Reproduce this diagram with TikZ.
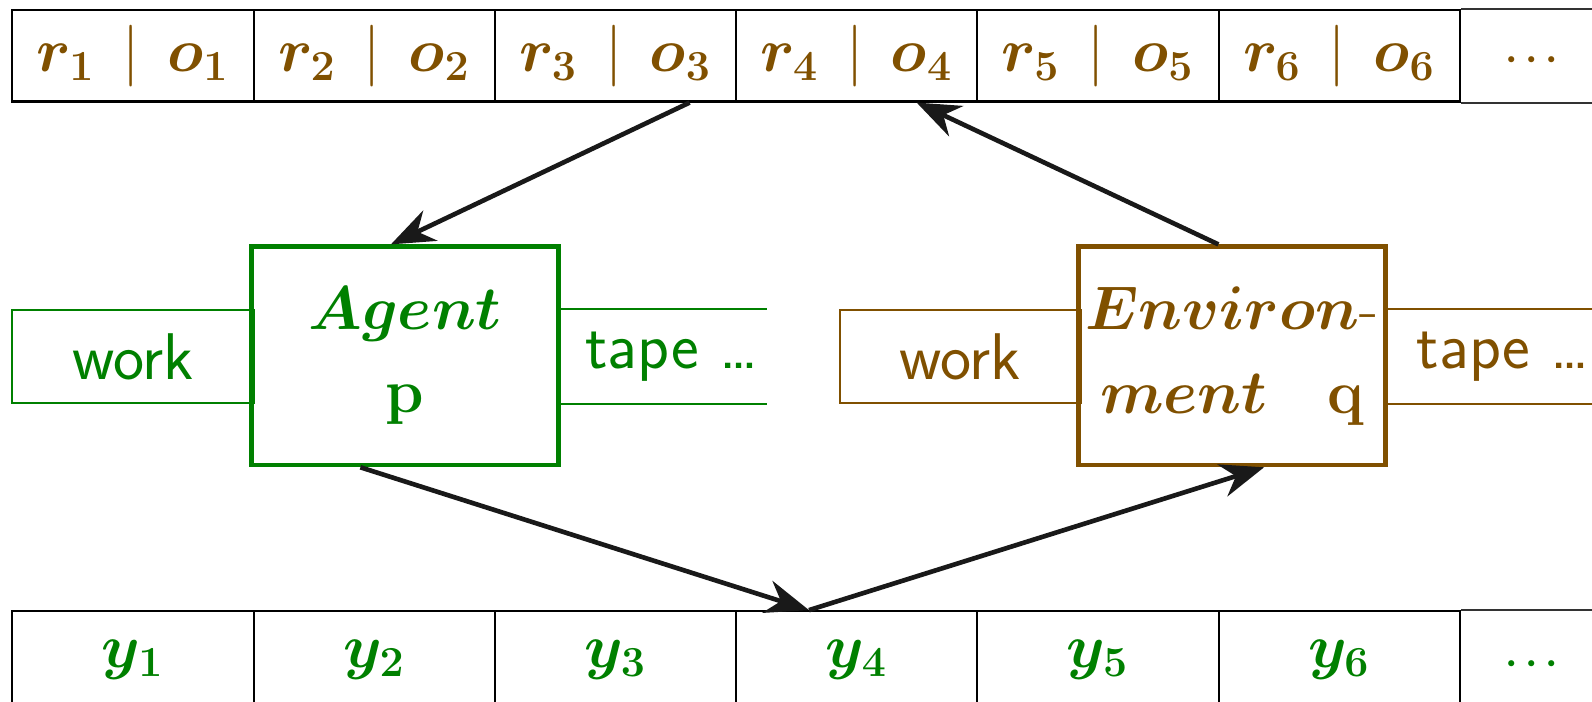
\documentclass[tikz,border=0pt]{standalone}
\usepackage{amsmath}
\usetikzlibrary{arrows.meta}

\definecolor{agentgreen}{RGB}{0,128,0}
\definecolor{envbrown}{RGB}{128,80,0}

\newcommand{\ro}[1]{$\boldsymbol{r_{#1}}\,\mid\,\boldsymbol{o_{#1}}$}
\newcommand{\yy}[1]{$\boldsymbol{y_{#1}}$}

\begin{document}
\begin{tikzpicture}[
        every node/.style={font=\fontsize{17.5}{23.5}\selectfont},
        cell/.style={rectangle, draw, line width=0.6pt, minimum width=2.376cm, inner sep=0pt},
        topcell/.style={cell, minimum height=0.9cm, text=envbrown},
        botcell/.style={cell, minimum height=0.96cm, text=agentgreen},
        dotsnode/.style={font=\fontsize{11}{13}\selectfont},
        machine/.style={rectangle, draw, line width=1.3pt, text width=2.6cm, align=center,
            inner sep=0.21cm, minimum height=2.15cm},
        workbox/.style={rectangle, draw, line width=0.6pt, minimum width=2.38cm,
            minimum height=0.92cm, font=\fontsize{18.5}{22}\sffamily},
        tapetext/.style={anchor=west, font=\fontsize{18.5}{22}\sffamily},
        arrow/.style={-{Stealth[length=4.3mm, width=3.3mm]}, line width=1.3pt, black!90}
    ]
        \useasboundingbox (0,0) rectangle (15.68,6.91);

        % tape of rewards and observations
        \node[topcell] (ro1) at (1.31,6.36) {\ro{1}};
        \node[topcell] (ro2) at (3.686,6.36) {\ro{2}};
        \node[topcell] (ro3) at (6.062,6.36) {\ro{3}};
        \node[topcell] (ro4) at (8.438,6.36) {\ro{4}};
        \node[topcell] (ro5) at (10.814,6.36) {\ro{5}};
        \node[topcell] (ro6) at (13.19,6.36) {\ro{6}};
        \node[dotsnode, text=envbrown] (rodots) at (15.12,6.32) {$\boldsymbol{\cdots}$};
        \draw[line width=0.6pt, black!80] (ro6.north east) -- ++(1.4,0);
        \draw[line width=0.6pt, black!80] (ro6.south east) -- ++(1.4,0);

        % tape of actions
        \node[botcell] (y1) at (1.31,0.41) {\yy{1}};
        \node[botcell] (y2) at (3.686,0.41) {\yy{2}};
        \node[botcell] (y3) at (6.062,0.41) {\yy{3}};
        \node[botcell] (y4) at (8.438,0.41) {\yy{4}};
        \node[botcell] (y5) at (10.814,0.41) {\yy{5}};
        \node[botcell] (y6) at (13.19,0.41) {\yy{6}};
        \node[dotsnode, text=agentgreen] (ydots) at (15.12,0.37) {$\boldsymbol{\cdots}$};
        \draw[line width=0.6pt, black!80] (y6.north east) -- ++(1.4,0);

        % agent
        \node[machine, draw=agentgreen, text=agentgreen] (agent) at (3.99,3.405) {$\boldsymbol{Agent}$\\$\mathbf{p}$};
        \node[workbox, draw=agentgreen, text=agentgreen] (agentwork) at (1.31,3.40) {work};
        \draw[agentgreen, line width=0.6pt] (agent.east |- agentwork.north) -- ++(2.03,0);
        \draw[agentgreen, line width=0.6pt] (agent.east |- agentwork.south) -- ++(2.03,0);
        \node[tapetext, text=agentgreen] (agenttape) at (5.64,3.40) {tape \dots};

        % environment
        \node[machine, draw=envbrown, text=envbrown] (env) at (12.135,3.405) {\makebox[2.6cm]{$\boldsymbol{Environ}$-}\\$\boldsymbol{ment}$\hfill$\mathbf{q}$};
        \node[workbox, draw=envbrown, text=envbrown] (envwork) at (9.46,3.40) {work};
        \draw[envbrown, line width=0.6pt] (env.east |- envwork.north) -- ++(2.2,0);
        \draw[envbrown, line width=0.6pt] (env.east |- envwork.south) -- ++(2.2,0);
        \node[tapetext, text=envbrown] (envtape) at (13.83,3.40) {tape \dots};

        \draw[arrow] ([xshift=7.3mm]ro3.south) -- ([xshift=-1.4mm]agent.north);
        \draw[arrow] ([xshift=-1.35mm]env.north) -- ([xshift=5.9mm]ro4.south);
        \draw[arrow] ([xshift=-4.4mm]agent.south) -- ([xshift=-4.7mm]y4.north);
        \draw[arrow] ([xshift=-4.7mm]y4.north) -- ([xshift=3.15mm]env.south);

    \end{tikzpicture}
\end{document}
